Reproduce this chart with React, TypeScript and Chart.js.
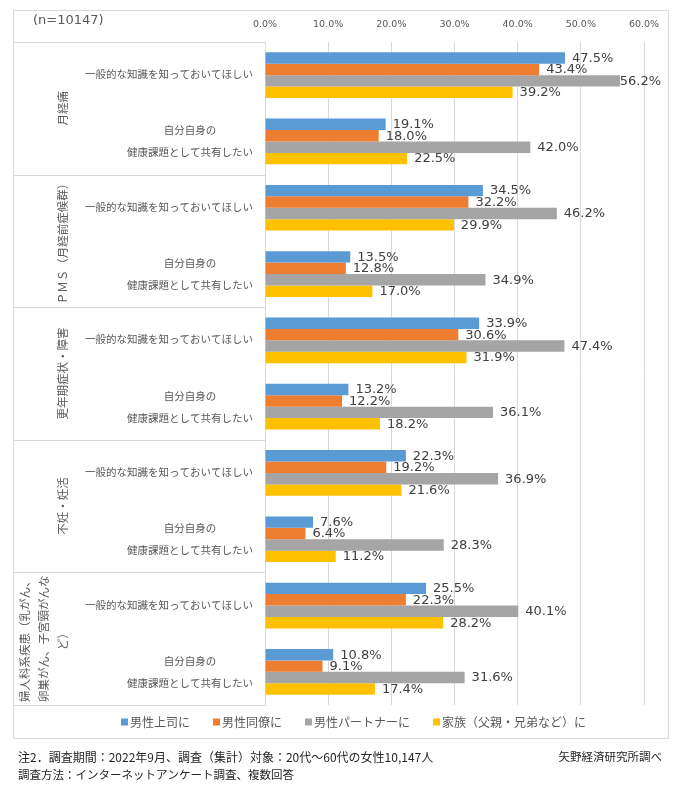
import React, { useEffect, useRef } from "react";
import { Chart, registerables } from "chart.js";

Chart.register(...registerables);

const groups: string[][] = [
  ["月経痛"],
  ["ＰＭＳ（月経前症候群）"],
  ["更年期症状・障害"],
  ["不妊・妊活"],
  ["婦人科系疾患（乳がん、", "卵巣がん、子宮頸がんな", "ど）"],
];

const categories: string[][] = [
  ["一般的な知識を知っておいてほしい"],
  ["自分自身の", "健康課題として共有したい"],
  ["一般的な知識を知っておいてほしい"],
  ["自分自身の", "健康課題として共有したい"],
  ["一般的な知識を知っておいてほしい"],
  ["自分自身の", "健康課題として共有したい"],
  ["一般的な知識を知っておいてほしい"],
  ["自分自身の", "健康課題として共有したい"],
  ["一般的な知識を知っておいてほしい"],
  ["自分自身の", "健康課題として共有したい"],
];

const seriesNames = ["男性上司に", "男性同僚に", "男性パートナーに", "家族（父親・兄弟など）に"];
const seriesColors = ["#5B9BD5", "#ED7D31", "#A5A5A5", "#FFC000"];

const bossValues = [47.5, 19.1, 34.5, 13.5, 33.9, 13.2, 22.3, 7.6, 25.5, 10.8];
const colleagueValues = [43.4, 18.0, 32.2, 12.8, 30.6, 12.2, 19.2, 6.4, 22.3, 9.1];
const partnerValues = [56.2, 42.0, 46.2, 34.9, 47.4, 36.1, 36.9, 28.3, 40.1, 31.6];
const familyValues = [39.2, 22.5, 29.9, 17.0, 31.9, 18.2, 21.6, 11.2, 28.2, 17.4];

const xTicks = [0, 10, 20, 30, 40, 50, 60];

const sampleNote = "(n=10147)";
const footnote1 = "注2．調査期間：2022年9月、調査（集計）対象：20代～60代の女性10,147人";
const footnote2 = "調査方法：インターネットアンケート調査、複数回答";
const sourceNote = "矢野経済研究所調べ";

const JP = '"Noto Sans CJK JP", "Noto Sans", sans-serif';
const LAT = '"DejaVu Sans", Verdana, sans-serif';

const decorPlugin = {
  id: "decor",
  afterDraw(chart: any) {
    const ctx = chart.ctx as CanvasRenderingContext2D;
    const yScale = chart.scales.y;
    const area = chart.chartArea;
    ctx.save();

    // outer frame
    ctx.strokeStyle = "#D9D9D9";
    ctx.lineWidth = 1;
    ctx.strokeRect(13.5, 10.5, 655, 728);

    // sample size
    ctx.fillStyle = "#595959";
    ctx.font = `13px ${LAT}`;
    ctx.textAlign = "left";
    ctx.textBaseline = "middle";
    ctx.fillText(sampleNote, 33, 21);

    // group separators
    ctx.strokeStyle = "#D9D9D9";
    ctx.beginPath();
    for (let g = 0; g <= groups.length; g++) {
      const y = Math.round(yScale.getPixelForValue(g * 2 - 0.5)) + 0.5;
      ctx.moveTo(13, y);
      ctx.lineTo(area.left, y);
    }
    ctx.stroke();

    // group labels (rotated)
    ctx.fillStyle = "#595959";
    ctx.font = `11.5px ${JP}`;
    ctx.textAlign = "center";
    ctx.textBaseline = "middle";
    groups.forEach((lines, g) => {
      const cy = yScale.getPixelForValue(g * 2 + 0.5);
      const n = lines.length;
      lines.forEach((line, i) => {
        const cx = 63 - (n - 1 - i) * 19;
        ctx.save();
        ctx.translate(cx, cy);
        ctx.rotate(-Math.PI / 2);
        ctx.fillText(line, 0, 0);
        ctx.restore();
      });
    });

    // category labels
    ctx.font = `10.5px ${JP}`;
    ctx.textBaseline = "middle";
    const rightX = 253;
    categories.forEach((lines, i) => {
      const cy = yScale.getPixelForValue(i);
      if (lines.length === 1) {
        ctx.textAlign = "right";
        ctx.fillText(lines[0], rightX, cy - 1);
      } else {
        const w = Math.max(...lines.map((l) => ctx.measureText(l).width));
        const cx = rightX - w / 2;
        ctx.textAlign = "center";
        lines.forEach((l, k) => {
          ctx.fillText(l, cx, cy - 11 + k * 22);
        });
      }
    });

    // legend
    ctx.font = `12px ${JP}`;
    ctx.textAlign = "left";
    let lx = 121;
    const ly = 722;
    chart.data.datasets.forEach((ds: any) => {
      ctx.fillStyle = ds.backgroundColor;
      ctx.fillRect(lx, ly - 3.5, 7, 7);
      ctx.fillStyle = "#595959";
      ctx.fillText(ds.label, lx + 9, ly);
      lx += 9 + ctx.measureText(ds.label).width + 23;
    });

    // footnotes
    ctx.fillStyle = "#262626";
    ctx.font = `12px ${JP}`;
    ctx.textAlign = "left";
    ctx.fillText(footnote1, 18, 757);
    ctx.font = `11.5px ${JP}`;
    ctx.fillText(footnote2, 18, 775);
    ctx.textAlign = "right";
    ctx.fillText(sourceNote, 662, 757);

    ctx.restore();
  },
};

const valueLabelPlugin = {
  id: "valueLabels",
  afterDatasetsDraw(chart: any) {
    const ctx = chart.ctx as CanvasRenderingContext2D;
    ctx.save();
    ctx.font = `13px ${LAT}`;
    ctx.fillStyle = "#404040";
    ctx.textAlign = "left";
    ctx.textBaseline = "middle";
    chart.data.datasets.forEach((ds: any, di: number) => {
      const meta = chart.getDatasetMeta(di);
      meta.data.forEach((el: any, i: number) => {
        const txt = Number(ds.data[i]).toFixed(1) + "%";
        const w = ctx.measureText(txt).width;
        const x = Math.min(el.x + 7, 661 - w);
        ctx.fillText(txt, x, el.y + 0.5);
      });
    });
    ctx.restore();
  },
};

export default function App() {
  const canvasRef = useRef<HTMLCanvasElement | null>(null);

  useEffect(() => {
    if (!canvasRef.current) return;
    const seriesData = [bossValues, colleagueValues, partnerValues, familyValues];
    const chart = new Chart(canvasRef.current, {
      type: "bar",
      data: {
        labels: categories,
        datasets: seriesNames.map((name, i) => ({
          label: name,
          data: seriesData[i],
          backgroundColor: seriesColors[i],
          borderWidth: 0,
          categoryPercentage: 0.69,
          barPercentage: 1.0,
        })),
      },
      options: {
        indexAxis: "y",
        animation: false,
        responsive: false,
        devicePixelRatio: 1,
        layout: { padding: { left: 12, right: 37, top: 0, bottom: 91 } },
        plugins: {
          legend: { display: false },
          tooltip: { enabled: false },
        },
        scales: {
          x: {
            position: "top",
            min: 0,
            max: 60,
            afterBuildTicks: (scale: any) => {
              scale.ticks = xTicks.map((v) => ({ value: v }));
            },
            afterFit: (scale: any) => {
              scale.height = 42;
            },
            ticks: {
              callback: (v: any) => Number(v).toFixed(1) + "%",
              font: { family: LAT, size: 9.5 },
              color: "#595959",
              padding: 12,
              maxRotation: 0,
            },
            grid: { color: "#D9D9D9", drawTicks: false },
            border: { display: false },
          },
          y: {
            afterFit: (scale: any) => {
              scale.width = 253;
            },
            ticks: { display: false },
            grid: { display: false },
            border: { display: true, color: "#D9D9D9" },
          },
        },
      } as any,
      plugins: [decorPlugin, valueLabelPlugin],
    });
    return () => chart.destroy();
  }, []);

  return (
    <div style={{ position: "absolute", left: 0, top: 0, width: 681, height: 796, background: "#fff" }}>
      <canvas ref={canvasRef} width={681} height={796} style={{ width: 681, height: 796 }} />
    </div>
  );
}
